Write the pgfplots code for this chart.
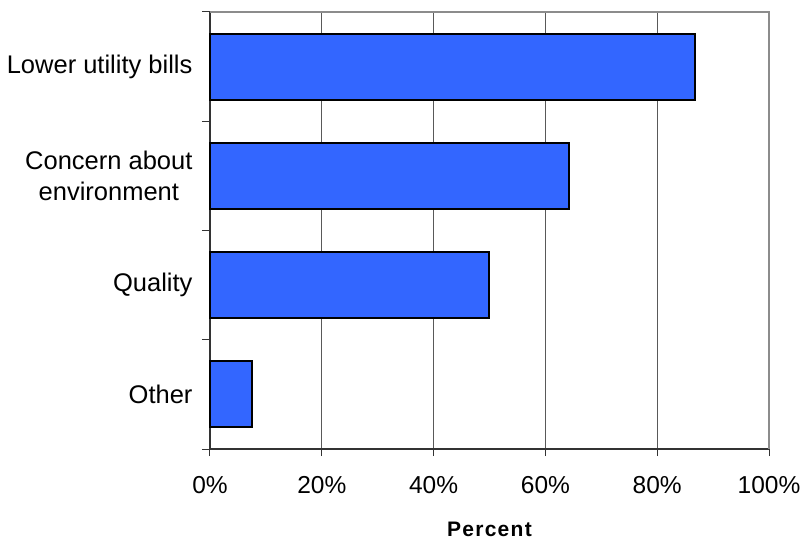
\documentclass[border=0pt]{standalone}
\usepackage{pgfplots}
\pgfplotsset{compat=1.18}
\usepackage{fontspec}
\setmainfont{Liberation Sans}
\definecolor{barblue}{HTML}{3366FF}
\begin{document}
\fontsize{25bp}{31bp}\selectfont
\begin{tikzpicture}
\useasboundingbox (-210bp,-91bp) rectangle (590bp,449bp);
\begin{axis}[
  at={(0,0)}, anchor=south west,
  scale only axis, width=559bp, height=437bp,
  xbar, bar width=66bp,
  xmin=0, xmax=100, ymin=-0.5, ymax=3.5,
  axis x line*=bottom, axis y line*=left,
  axis line style={draw=black!80, line width=1.6bp},
  xtick={0,20,40,60,80,100},
  xticklabel={\pgfmathprintnumber{\tick}\%},
  /pgf/number format/assume math mode=true,
  xmajorgrids, grid style={draw=black!65, line width=0.8bp},
  tick align=outside,
  major x tick style={draw=black!80, line width=1bp},
  major tick length=7bp,
  ytick={0,1,2,3},
  yticklabels={Other,Quality,{Concern about\\environment},Lower utility bills},
  major y tick style={draw=none},
  minor ytick={-0.5,0.5,1.5,2.5,3.5},
  minor y tick style={draw=black!80, line width=1bp},
  minor tick length=8bp,
  yticklabel style={align=center, xshift=-2bp, font=\fontsize{25.5bp}{31bp}\selectfont},
  xticklabel style={yshift=-12bp, font=\fontsize{24.5bp}{29bp}\selectfont},
  xlabel={Percent},
  xlabel style={at={(axis description cs:0.5,0)}, anchor=center, yshift=-80bp,
    font=\fontsize{21bp}{25bp}\selectfont\bfseries\addfontfeatures{LetterSpace=6}},
  clip=false,
]
\addplot[fill=barblue, draw=black, line width=2bp] coordinates {
  (7.5,0) (49.9,1) (64.3,2) (86.8,3)
};
\draw[draw=black!45, line width=1.5bp] (rel axis cs:0,1) -- (rel axis cs:1,1) -- (rel axis cs:1,0);
\end{axis}
\end{tikzpicture}
\end{document}
